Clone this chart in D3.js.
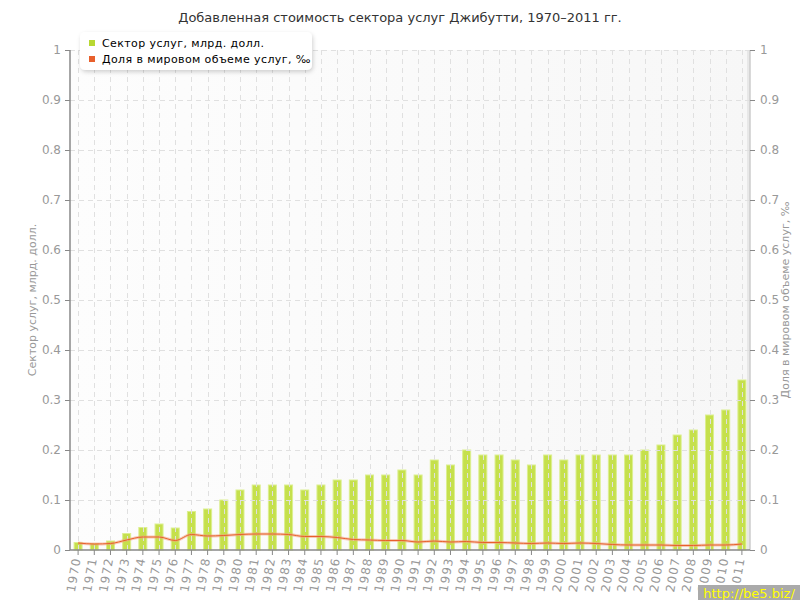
<!DOCTYPE html>
<html><head><meta charset="utf-8">
<script src="https://cdn.jsdelivr.net/npm/d3@7"></script>
<style>body{margin:0;background:#fff;font-family:"DejaVu Sans",sans-serif;}</style>
</head><body><svg id="c" width="800" height="600"></svg>
<script>
const years = d3.range(1970, 2012).map(String);
const services = [0.015,0.013,0.018,0.033,0.045,0.052,0.044,0.077,0.082,0.10,
  0.12,0.13,0.13,0.13,0.12,0.13,0.14,0.14,0.15,0.15,
  0.16,0.15,0.18,0.17,0.20,0.19,0.19,0.18,0.17,0.19,
  0.18,0.19,0.19,0.19,0.19,0.20,0.21,0.23,0.24,0.27,0.28,0.34];
const share = [0.014,0.012,0.013,0.020,0.026,0.026,0.019,0.031,0.028,0.029,
  0.031,0.032,0.032,0.031,0.027,0.027,0.025,0.021,0.020,0.019,
  0.019,0.016,0.018,0.016,0.017,0.015,0.015,0.014,0.013,0.014,
  0.013,0.014,0.013,0.011,0.010,0.010,0.010,0.009,0.009,0.010,0.010,0.012];
const yTicks = [0,0.1,0.2,0.3,0.4,0.5,0.6,0.7,0.8,0.9,1];
const legendLabels = ["Сектор услуг, млрд. долл.", "Доля в мировом объеме услуг, ‰"];
const title = "Добавленная стоимость сектора услуг Джибутти, 1970–2011 гг.";

const svg = d3.select("#c");
const L=70, R=750, T=50, B=550;
const x = d3.scaleBand().domain(years).range([L,R]).padding(0);
const yL = d3.scaleLinear().domain([0,1]).range([B,T]);
const yR = d3.scaleLinear().domain([0,1]).range([B,T]);
const defs = svg.append("defs");
const grad = defs.append("linearGradient").attr("id","bg").attr("x1",0).attr("x2",1).attr("y1",0).attr("y2",0);
grad.append("stop").attr("offset","0").attr("stop-color","#fdfdfd");
grad.append("stop").attr("offset","1").attr("stop-color","#f7f7f7");
const sh = defs.append("filter").attr("id","sh").attr("x","-10%").attr("y","-20%").attr("width","130%").attr("height","160%");
sh.append("feDropShadow").attr("dx",1).attr("dy",2).attr("stdDeviation",2).attr("flood-color","#000").attr("flood-opacity",0.18);

svg.append("rect").attr("x",L).attr("y",T).attr("width",R-L).attr("height",B-T).attr("fill","url(#bg)");
svg.append("rect").attr("x",R-3).attr("y",T).attr("width",3).attr("height",B-T).attr("fill","#e8e8e8");

// title
svg.append("text").attr("x",400).attr("y",22).attr("text-anchor","middle")
  .attr("font-size",13).attr("fill","#333").text(title);

// bars
svg.append("g").selectAll("rect").data(services).join("rect")
  .attr("x",(d,i)=>x(years[i])+x.bandwidth()/2-4)
  .attr("width",8)
  .attr("y",d=>yL(d)).attr("height",d=>B-yL(d))
  .attr("fill","#c5e04c").attr("stroke","#dcef8f").attr("stroke-width",1);

// grid
const grid = svg.append("g").attr("stroke","#e0e0e0").attr("stroke-dasharray","5,4").attr("stroke-width",1);
yTicks.filter(t=>t>0).forEach(t=>grid.append("line").attr("x1",L).attr("x2",R).attr("y1",yL(t)+0.5).attr("y2",yL(t)+0.5));
years.forEach(yv=>grid.append("line").attr("x1",Math.round(x(yv)+x.bandwidth()/2)+0.5).attr("x2",Math.round(x(yv)+x.bandwidth()/2)+0.5).attr("y1",T).attr("y2",B));

// line
const line = d3.line().x((d,i)=>x(years[i])+x.bandwidth()/2).y(d=>yR(d)).curve(d3.curveMonotoneX);
svg.append("path").datum(share).attr("d",line).attr("fill","none").attr("stroke","#f2a27e").attr("stroke-width",3).attr("opacity",0.55);
svg.append("path").datum(share).attr("d",line).attr("fill","none").attr("stroke","#e8602c").attr("stroke-width",1);

// axes
const fmt = d=>d===0?"0":d===1?"1":String(d);
const ga = svg.append("g").attr("transform",`translate(${L},0)`)
  .call(d3.axisLeft(yL).tickValues(yTicks).tickFormat(fmt).tickSize(5).tickPadding(4));
const gr = svg.append("g").attr("transform",`translate(${R},0)`)
  .call(d3.axisRight(yR).tickValues(yTicks).tickFormat(fmt).tickSize(5).tickPadding(5));
const gx = svg.append("g").attr("transform",`translate(0,${B})`)
  .call(d3.axisBottom(x).tickSize(5).tickSizeOuter(0));
[ga,gr,gx].forEach(g=>{
  g.selectAll("text").attr("font-family","DejaVu Sans, sans-serif").attr("font-size",12).attr("fill","#999");
  g.selectAll("line").attr("stroke","#888");
  g.select(".domain").attr("stroke","#888").attr("stroke-width",1.5);
});
gr.select(".domain").attr("stroke","#ccc");
ga.select(".domain").attr("d",`M0,${T}V${B}`);
gr.select(".domain").attr("d",`M0,${T}V${B}`);
gx.select(".domain").attr("d",`M${L},0H${R}`);
gx.selectAll("text").attr("transform","rotate(-80)").attr("text-anchor","end")
  .attr("x",-8).attr("y",0).attr("dy","0.35em").attr("letter-spacing",1);

// axis titles
svg.append("text").attr("transform",`translate(36,${(T+B)/2}) rotate(-90)`).attr("text-anchor","middle")
  .attr("font-size",11).attr("fill","#999").text("Сектор услуг, млрд. долл.");
svg.append("text").attr("transform",`translate(789,${(T+B)/2}) rotate(-90)`).attr("text-anchor","middle")
  .attr("font-size",11).attr("fill","#999").text("Доля в мировом объеме услуг, ‰");

// legend
const lg = svg.append("g");
lg.append("rect").attr("x",80).attr("y",32).attr("width",232).attr("height",38).attr("rx",5)
  .attr("fill","#fff").attr("filter","url(#sh)");
const colors = ["#b8d832","#e8602c"];
legendLabels.forEach((t,i)=>{
  lg.append("rect").attr("x",89).attr("y",40+i*16).attr("width",6).attr("height",6).attr("fill",colors[i]);
  lg.append("text").attr("x",102).attr("y",47+i*16).attr("font-size",11).attr("letter-spacing",0.4).attr("fill","#000").text(t);
});

// watermark
svg.append("rect").attr("x",698).attr("y",585).attr("width",102).attr("height",15).attr("fill","#aaa");
svg.append("text").attr("x",749).attr("y",598).attr("text-anchor","middle").attr("font-size",13)
  .attr("fill","#ffff00").text("http://be5.biz/");
</script></body></html>
